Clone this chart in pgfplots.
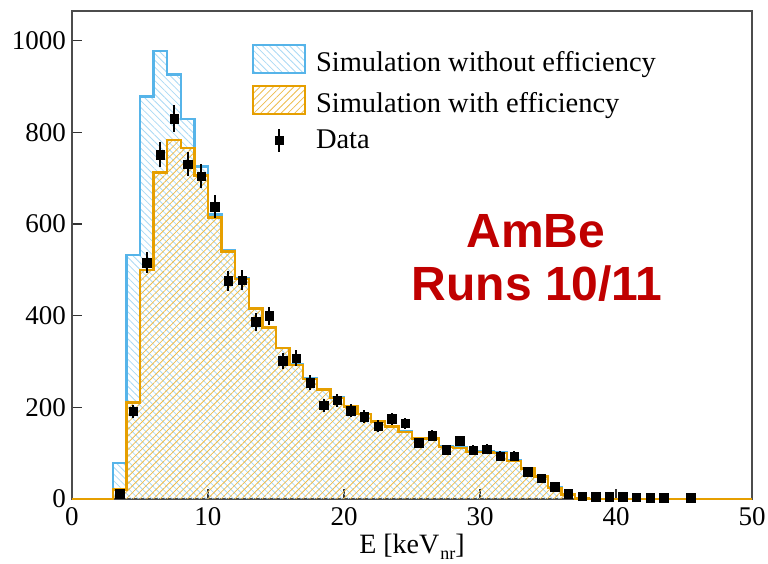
\documentclass[border=0pt]{standalone}
\usepackage{fontspec}
\setmainfont{Liberation Serif}
\newfontfamily\labelsans{Liberation Sans}
\usepackage{pgfplots}
\usepackage{pgfplotstable}
\pgfplotsset{compat=1.18}
\usetikzlibrary{patterns.meta}

\definecolor{simblue}{HTML}{56B4E9}
\definecolor{simorange}{HTML}{E69F00}
\definecolor{runred}{HTML}{C00000}

% Simulated spectrum without detection efficiency (left bin edge, counts)
\pgfplotstableread{
x y
0 0
3 79
4 533
5 878
6 978
7 926
8 829
9 726
10 621
11 543
12 481
13 417
14 375
15 330
16 293
17 263
18 240
19 221
20 203
21 186
22 170
23 159
24 147
25 133
26 133
27 115
28 112
29 104
30 104
31 101
32 84
33 68
34 50
35 25
36 10
37 1
38 0
50 0
}\simnoeff

% Simulated spectrum with detection efficiency applied
\pgfplotstableread{
x y
0 0
3 21
4 211
5 500
6 713
7 784
8 766
9 706
10 614
11 540
12 480
13 416
14 374
15 329
16 292
17 262
18 239
19 220
20 202
21 185
22 169
23 158
24 146
25 132
26 132
27 114
28 111
29 103
30 103
31 100
32 83
33 67
34 49
35 24
36 10
37 1
38 0
50 0
}\simeff

% Measured counts per 1 keVnr bin with statistical errors
\pgfplotstableread{
x y e
3.5 12 3.5
4.5 191 13.8
5.5 516 22.7
6.5 751 27.4
7.5 830 28.8
8.5 731 27.0
9.5 705 26.6
10.5 638 25.3
11.5 476 21.8
12.5 477 21.8
13.5 387 19.7
14.5 400 20.0
15.5 302 17.4
16.5 307 17.5
17.5 254 15.9
18.5 205 14.3
19.5 215 14.7
20.5 193 13.9
21.5 180 13.4
22.5 159 12.6
23.5 175 13.2
24.5 165 12.8
25.5 123 11.1
26.5 138 11.7
27.5 108 10.4
28.5 127 11.3
29.5 107 10.3
30.5 109 10.4
31.5 94 9.7
32.5 94 9.7
33.5 60 7.7
34.5 45 6.7
35.5 27 5.2
36.5 12 3.5
37.5 6 2.4
38.5 5 2.2
39.5 5 2.2
40.5 5 2.2
41.5 4 2.0
42.5 3 1.7
43.5 3 1.7
45.5 3 1.7
}\measured

\tikzset{
  bluehatch/.style={pattern={Lines[angle=-45,distance=4.8pt,line width=0.8pt]}, pattern color=simblue!50},
  orangehatch/.style={pattern={Lines[angle=45,distance=4.8pt,line width=0.8pt]}, pattern color=simorange!70},
}

\begin{document}
\begin{tikzpicture}
\begin{axis}[
  name=main,
  scale only axis,
  width=680pt, height=488pt,
  xmin=0, xmax=50, ymin=0, ymax=1065,
  clip=false,
  xtick={0,10,...,50},
  ytick={0,200,...,1000},
  minor tick num=0,
  tick align=inside,
  xtick pos=bottom, ytick pos=left,
  major tick length=10pt,
  every tick/.style={black!80, line width=1.3pt},
  axis line style={black!70, line width=1.5pt},
  ticklabel style={font=\fontsize{27}{30}\selectfont},
  /pgf/number format/assume math mode=true,
  /pgf/number format/set thousands separator={},
  scaled y ticks=false,
  xticklabel style={inner sep=0pt, yshift=-8pt},
  yticklabel style={inner sep=0pt, xshift=-6pt},
  xlabel={E [keV\kern1pt\raisebox{-0.45ex}{\fontsize{18}{18}\selectfont nr}]},
  xlabel style={font=\fontsize{28}{30}\selectfont, at={(axis description cs:0.5,0)}, anchor=base, yshift=-55pt, inner sep=0pt},
  legend cell align=left,
  legend style={draw=none, fill=none, at={(0.2662,0.9254)}, anchor=north west,
    inner sep=0pt, outer sep=0pt, row sep=11.4pt,
    font=\fontsize{28.5}{32}\selectfont,
    nodes={inner sep=0pt},
    /tikz/every odd column/.append style={column sep=11pt}},
]

% hatched areas first, outlines on top
\addplot[const plot, draw=none, bluehatch, forget plot] table[x=x, y=y] {\simnoeff} \closedcycle;
\addplot[const plot, draw=none, orangehatch, forget plot] table[x=x, y=y] {\simeff} \closedcycle;
\addplot[const plot, simblue, line width=2.5pt, forget plot] table[x=x, y=y] {\simnoeff};
\addplot[const plot, simorange, line width=2.5pt, forget plot] table[x=x, y=y] {\simeff};

\addplot[only marks, mark=square*, mark size=4.2pt, black, forget plot,
  error bars/.cd, y dir=both, y explicit, error mark=none,
  error bar style={line width=2pt, black}]
  table[x=x, y=y, y error=e] {\measured};

% legend images: an invisible box fixes the cell size, the visible part is an overlay
\addlegendimage{legend image code/.code={
  \path[draw=none, fill=none] (0pt,-14.8pt) rectangle (52pt,14.8pt);
  \draw[overlay, bluehatch, draw=simblue, line width=1.6pt, solid] (0pt,-10.6pt) rectangle (52pt,17.4pt);}}
\addlegendentry{Simulation without efficiency}
\addlegendimage{legend image code/.code={
  \path[draw=none, fill=none] (0pt,-14.8pt) rectangle (52pt,14.8pt);
  \draw[overlay, orangehatch, draw=simorange, line width=1.6pt, solid] (0pt,-10.6pt) rectangle (52pt,17.4pt);}}
\addlegendentry{Simulation with efficiency}
\addlegendimage{legend image code/.code={
  \path[draw=none, fill=none] (0pt,-11pt) rectangle (52pt,11pt);
  \draw[overlay, black, line width=2pt, solid] (26pt,-11.5pt) -- (26pt,11.5pt);
  \draw[overlay, black, solid, only marks, mark=square*, mark size=4.2pt] plot coordinates {(26pt,0pt)};}}
\addlegendentry{Data}

\node[font=\labelsans\bfseries\fontsize{48}{52}\selectfont, text=runred, anchor=base, inner sep=0pt] at (axis cs:34.1,548) {AmBe};
\node[font=\labelsans\bfseries\fontsize{48}{52}\selectfont, text=runred, anchor=base, inner sep=0pt] at (axis cs:34.2,434) {Runs 10/11};
\end{axis}
\pgfresetboundingbox
\path (main.south west) ++(-72pt,-65pt) rectangle ++(768pt,564pt);
\end{tikzpicture}
\end{document}
